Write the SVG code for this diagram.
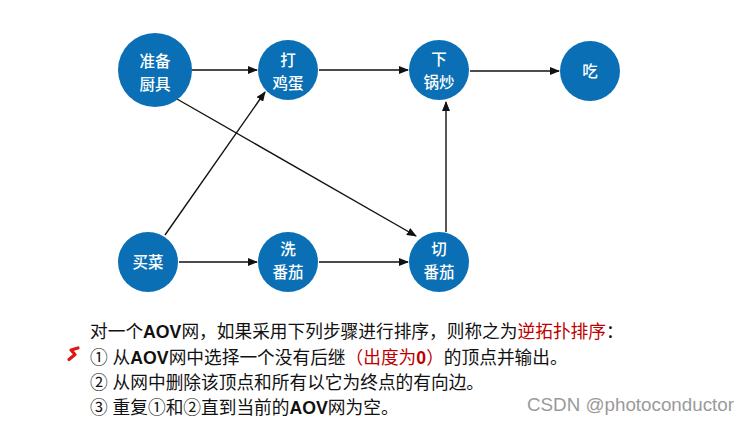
<svg xmlns="http://www.w3.org/2000/svg" width="751" height="423" viewBox="0 0 751 423">
<style>
.n{fill:#0a6fb5}
.nt{fill:#fff;font-family:"Noto Sans CJK SC","Liberation Sans",sans-serif;font-size:15.5px;text-anchor:middle;font-weight:500}
.e{stroke:#111;stroke-width:1.4;fill:none;marker-end:url(#ah)}
.t{font-family:"Liberation Sans","Noto Sans CJK SC",sans-serif;font-size:17.7px;fill:#111}
.r{fill:#c00000}
.b{font-weight:bold}
</style>
<defs>
<marker id="ah" markerWidth="10" markerHeight="8" refX="9" refY="4" orient="auto" markerUnits="userSpaceOnUse">
<path d="M0,0 L10,4 L0,8 Z" fill="#111"/>
</marker>
</defs>
<rect width="751" height="423" fill="#fff"/>
<g id="edges">
<line class="e" x1="192" y1="70" x2="257" y2="70"/>
<line class="e" x1="319" y1="70" x2="408" y2="70"/>
<line class="e" x1="470" y1="71" x2="559" y2="71"/>
<line class="e" x1="177" y1="99" x2="416" y2="236"/>
<line class="e" x1="165" y1="235" x2="265" y2="92"/>
<line class="e" x1="179" y1="262" x2="257" y2="262"/>
<line class="e" x1="319" y1="262" x2="408" y2="262"/>
<line class="e" x1="446" y1="232" x2="446" y2="102"/>
</g>
<g id="n1"><circle class="n" cx="155" cy="70" r="37"/><text class="nt" x="155" y="67">准备</text><text class="nt" x="155" y="90">厨具</text></g>
<g id="n2"><circle class="n" cx="288" cy="70" r="30"/><text class="nt" x="288" y="66">打</text><text class="nt" x="288" y="89">鸡蛋</text></g>
<g id="n3"><circle class="n" cx="439" cy="70" r="30"/><text class="nt" x="439" y="65">下</text><text class="nt" x="439" y="88">锅炒</text></g>
<g id="n4"><circle class="n" cx="590" cy="71" r="30"/><text class="nt" x="590" y="77">吃</text></g>
<g id="n5"><circle class="n" cx="148" cy="262" r="30"/><text class="nt" x="148" y="268">买菜</text></g>
<g id="n6"><circle class="n" cx="288" cy="262" r="30"/><text class="nt" x="288" y="255">洗</text><text class="nt" x="288" y="278">番茄</text></g>
<g id="n7"><circle class="n" cx="439" cy="262" r="30"/><text class="nt" x="439" y="255">切</text><text class="nt" x="439" y="278">番茄</text></g>
<g id="text">
<text class="t" x="90" y="338">对一个<tspan class="b">AOV</tspan>网，如果采用下列步骤进行排序，则称之为<tspan class="r">逆拓扑排序</tspan>：</text>
<text class="t" x="90" y="364">① 从<tspan class="b">AOV</tspan>网中选择一个没有后继<tspan class="r">（出度为<tspan class="b">0</tspan>）</tspan>的顶点并输出。</text>
<text class="t" x="90" y="389">② 从网中删除该顶点和所有以它为终点的有向边。</text>
<text class="t" x="90" y="414">③ 重复①和②直到当前的<tspan class="b">AOV</tspan>网为空。</text>
</g>
<path d="M78,348 L71,350 L75,354.5 L69,359.5" stroke="#e01515" stroke-width="3.2" fill="none" stroke-linecap="round" stroke-linejoin="round"/>
<text x="527" y="411" font-family="'Liberation Sans',sans-serif" font-size="18.8" fill="#9a9a9a">CSDN @photoconductor</text>
</svg>
